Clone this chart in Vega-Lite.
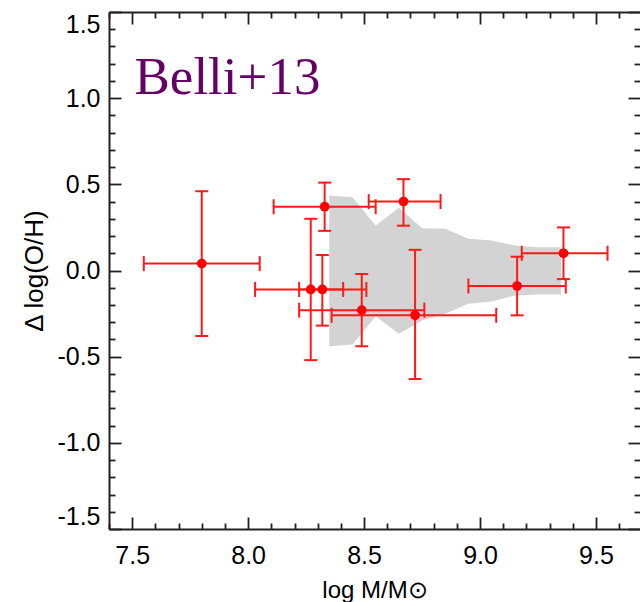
{
  "$schema": "https://vega.github.io/schema/vega-lite/v6.json",
  "autosize": {"type": "none"},
  "padding": {"left": 109, "top": 12, "right": 0, "bottom": 73},
  "width": 531,
  "height": 517,
  "background": "white",
  "config": {"view": {"stroke": null}},
  "datasets": {
    "pts": [
      {"x": 7.80, "y": 0.04, "xlo": 7.55, "xhi": 8.05, "ylo": -0.38, "yhi": 0.46},
      {"x": 8.33, "y": 0.37, "xlo": 8.11, "xhi": 8.55, "ylo": 0.23, "yhi": 0.51},
      {"x": 8.67, "y": 0.40, "xlo": 8.52, "xhi": 8.83, "ylo": 0.26, "yhi": 0.53},
      {"x": 8.27, "y": -0.11, "xlo": 8.03, "xhi": 8.51, "ylo": -0.52, "yhi": 0.30},
      {"x": 8.32, "y": -0.11, "xlo": 8.22, "xhi": 8.41, "ylo": -0.32, "yhi": 0.09},
      {"x": 8.49, "y": -0.23, "xlo": 8.22, "xhi": 8.76, "ylo": -0.44, "yhi": -0.02},
      {"x": 8.72, "y": -0.26, "xlo": 8.36, "xhi": 9.07, "ylo": -0.63, "yhi": 0.12},
      {"x": 9.16, "y": -0.09, "xlo": 8.95, "xhi": 9.37, "ylo": -0.26, "yhi": 0.08},
      {"x": 9.36, "y": 0.10, "xlo": 9.18, "xhi": 9.55, "ylo": -0.05, "yhi": 0.25}
    ],
    "band": [
      {"x": 8.35, "lo": -0.439, "hi": 0.435},
      {"x": 8.45, "lo": -0.429, "hi": 0.425},
      {"x": 8.55, "lo": -0.265, "hi": 0.261},
      {"x": 8.65, "lo": -0.367, "hi": 0.364},
      {"x": 8.75, "lo": -0.290, "hi": 0.245},
      {"x": 8.85, "lo": -0.251, "hi": 0.242},
      {"x": 8.95, "lo": -0.193, "hi": 0.184},
      {"x": 9.05, "lo": -0.180, "hi": 0.174},
      {"x": 9.15, "lo": -0.145, "hi": 0.145},
      {"x": 9.25, "lo": -0.139, "hi": 0.135},
      {"x": 9.35, "lo": -0.139, "hi": 0.135}
    ],
    "label": [
      {"x": 7.51, "y": 1.026, "text": "Belli+13"}
    ]
  },
  "resolve": {"axis": {"x": "independent", "y": "independent"}},
  "layer": [
    {
      "data": {"name": "band"},
      "mark": {"type": "area", "color": "#d3d3d3", "opacity": 1},
      "encoding": {
        "x": {"field": "x", "type": "quantitative",
          "scale": {"domain": [7.4, 9.69], "nice": false, "zero": false},
          "axis": {
            "orient": "bottom",
            "values": [7.4,7.5,7.6,7.7,7.8,7.9,8.0,8.1,8.2,8.3,8.4,8.5,8.6,8.7,8.8,8.9,9.0,9.1,9.2,9.3,9.4,9.5,9.6],
            "labelExpr": "abs(datum.value*2 - round(datum.value*2)) < 0.01 ? format(datum.value, '.1f') : ''",
            "tickSize": {"condition": {"test": "abs(datum.value*2 - round(datum.value*2)) < 0.01", "value": -12}, "value": -6},
            "labelPadding": 26,
            "labelFlush": false,
            "labelOverlap": false,
            "grid": false,
            "domainColor": "#222222", "domainWidth": 2,
            "tickColor": "#222222", "tickWidth": 1.8,
            "labelFont": "Liberation Sans", "labelFontSize": 25, "labelColor": "black",
            "title": "log M/M⊙",
            "titleFont": "Liberation Sans", "titleFontSize": 24, "titleFontWeight": "normal", "titleColor": "black",
            "titlePadding": 4
          }},
        "y": {"field": "lo", "type": "quantitative",
          "scale": {"domain": [-1.5, 1.5], "nice": false, "zero": false},
          "axis": {
            "orient": "left",
            "values": [-1.5,-1.4,-1.3,-1.2,-1.1,-1.0,-0.9,-0.8,-0.7,-0.6,-0.5,-0.4,-0.3,-0.2,-0.1,0,0.1,0.2,0.3,0.4,0.5,0.6,0.7,0.8,0.9,1.0,1.1,1.2,1.3,1.4,1.5],
            "labelExpr": "abs(datum.value*2 - round(datum.value*2)) < 0.01 ? (datum.value < -0.001 ? '-' : '') + format(abs(datum.value), '.1f') : ''",
            "tickSize": {"condition": {"test": "abs(datum.value*2 - round(datum.value*2)) < 0.01", "value": -12}, "value": -6},
            "labelPadding": 21,
            "labelFlush": true,
            "labelOverlap": false,
            "grid": false,
            "domainColor": "#222222", "domainWidth": 2,
            "tickColor": "#222222", "tickWidth": 1.8,
            "labelFont": "Liberation Sans", "labelFontSize": 25, "labelColor": "black",
            "title": "Δ log(O/H)",
            "titleFont": "Liberation Sans", "titleFontSize": 26, "titleFontWeight": "normal", "titleColor": "black",
            "titlePadding": 9
          }},
        "y2": {"field": "hi"}
      }
    },
    {
      "mark": {"type": "rule", "color": "#111111", "strokeWidth": 2},
      "encoding": {"y": {"datum": 0, "type": "quantitative", "axis": null}}
    },
    {
      "data": {"name": "pts"},
      "mark": {"type": "rule", "color": "#ff1a1a", "strokeWidth": 2},
      "encoding": {
        "x": {"field": "x", "type": "quantitative",
          "axis": {
            "orient": "top",
            "values": [7.4,7.5,7.6,7.7,7.8,7.9,8.0,8.1,8.2,8.3,8.4,8.5,8.6,8.7,8.8,8.9,9.0,9.1,9.2,9.3,9.4,9.5,9.6],
            "labels": false,
            "tickSize": {"condition": {"test": "abs(datum.value*2 - round(datum.value*2)) < 0.01", "value": -12}, "value": -6},
            "grid": false, "title": null,
            "domainColor": "#222222", "domainWidth": 2,
            "tickColor": "#222222", "tickWidth": 1.8
          }},
        "y": {"field": "ylo", "type": "quantitative",
          "axis": {
            "orient": "right",
            "values": [-1.5,-1.4,-1.3,-1.2,-1.1,-1.0,-0.9,-0.8,-0.7,-0.6,-0.5,-0.4,-0.3,-0.2,-0.1,0,0.1,0.2,0.3,0.4,0.5,0.6,0.7,0.8,0.9,1.0,1.1,1.2,1.3,1.4,1.5],
            "labels": false,
            "tickSize": {"condition": {"test": "abs(datum.value*2 - round(datum.value*2)) < 0.01", "value": -12}, "value": -6},
            "grid": false, "title": null,
            "domain": false,
            "tickColor": "#222222", "tickWidth": 1.8
          }},
        "y2": {"field": "yhi"}
      }
    },
    {
      "data": {"name": "pts"},
      "mark": {"type": "rule", "color": "#ff1a1a", "strokeWidth": 2},
      "encoding": {
        "x": {"field": "xlo", "type": "quantitative", "axis": null},
        "x2": {"field": "xhi"},
        "y": {"field": "y", "type": "quantitative", "axis": null}
      }
    },
    {
      "data": {"name": "pts"},
      "mark": {"type": "tick", "orient": "horizontal", "color": "#ff1a1a", "size": 13, "thickness": 2, "opacity": 1},
      "encoding": {
        "x": {"field": "x", "type": "quantitative", "axis": null},
        "y": {"field": "ylo", "type": "quantitative", "axis": null}
      }
    },
    {
      "data": {"name": "pts"},
      "mark": {"type": "tick", "orient": "horizontal", "color": "#ff1a1a", "size": 13, "thickness": 2, "opacity": 1},
      "encoding": {
        "x": {"field": "x", "type": "quantitative", "axis": null},
        "y": {"field": "yhi", "type": "quantitative", "axis": null}
      }
    },
    {
      "data": {"name": "pts"},
      "mark": {"type": "tick", "orient": "vertical", "color": "#ff1a1a", "size": 15, "thickness": 2, "opacity": 1},
      "encoding": {
        "x": {"field": "xlo", "type": "quantitative", "axis": null},
        "y": {"field": "y", "type": "quantitative", "axis": null}
      }
    },
    {
      "data": {"name": "pts"},
      "mark": {"type": "tick", "orient": "vertical", "color": "#ff1a1a", "size": 15, "thickness": 2, "opacity": 1},
      "encoding": {
        "x": {"field": "xhi", "type": "quantitative", "axis": null},
        "y": {"field": "y", "type": "quantitative", "axis": null}
      }
    },
    {
      "data": {"name": "pts"},
      "mark": {"type": "point", "filled": true, "shape": "circle", "color": "#ff0000", "size": 95, "opacity": 1},
      "encoding": {
        "x": {"field": "x", "type": "quantitative", "axis": null},
        "y": {"field": "y", "type": "quantitative", "axis": null}
      }
    },
    {
      "data": {"name": "label"},
      "mark": {"type": "text", "font": "Liberation Serif", "fontSize": 53, "color": "#660066", "align": "left", "baseline": "alphabetic"},
      "encoding": {
        "x": {"field": "x", "type": "quantitative", "axis": null},
        "y": {"field": "y", "type": "quantitative", "axis": null},
        "text": {"field": "text"}
      }
    }
  ]
}
